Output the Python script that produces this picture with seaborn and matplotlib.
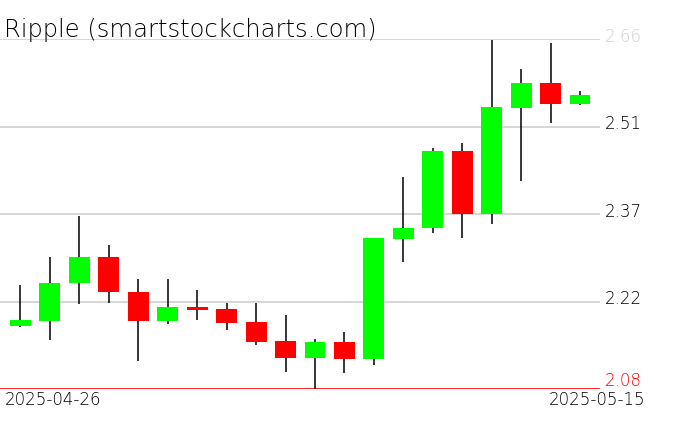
import pandas as pd
import matplotlib
matplotlib.use("Agg")
import matplotlib.pyplot as plt
import seaborn as sns

# daily OHLC
dates = pd.date_range("2025-04-26", "2025-05-15", freq="D")
opens = [2.184, 2.193, 2.255, 2.299, 2.241, 2.193, 2.216, 2.213, 2.191, 2.160,
         2.132, 2.158, 2.129, 2.329, 2.346, 2.474, 2.370, 2.546, 2.587, 2.553]
closes = [2.194, 2.256, 2.299, 2.241, 2.193, 2.216, 2.211, 2.190, 2.158, 2.132,
          2.158, 2.129, 2.330, 2.347, 2.474, 2.370, 2.547, 2.587, 2.553, 2.567]
highs = [2.252, 2.299, 2.366, 2.319, 2.262, 2.262, 2.244, 2.223, 2.223, 2.203,
         2.163, 2.175, 2.331, 2.431, 2.479, 2.488, 2.659, 2.610, 2.653, 2.574]
lows = [2.183, 2.162, 2.221, 2.223, 2.127, 2.188, 2.195, 2.178, 2.153, 2.109,
        2.080, 2.106, 2.119, 2.290, 2.338, 2.331, 2.354, 2.424, 2.521, 2.551]
y_ticks = [2.08, 2.225, 2.37, 2.515, 2.66]
y_labels = ["2.08", "2.22", "2.37", "2.51", "2.66"]

df = pd.DataFrame({"date": dates, "open": opens, "close": closes,
                   "high": highs, "low": lows})
df["idx"] = range(len(df))
df["up"] = df["close"] >= df["open"]
df["color"] = df["up"].map({True: "#00ff00", False: "#ff0000"})

sns.set_theme(style="white")
plt.rcParams["font.family"] = ["DejaVu Sans"]
plt.rcParams["text.color"] = "black"

fig = plt.figure(figsize=(6.76, 4.31), dpi=100)
ax = fig.add_axes([0, 41 / 431, 600 / 676, 350 / 431])

# grid lines
for v in y_ticks[1:]:
    ax.axhline(v, color="#d0d0d0", lw=1.2, zorder=0)
ax.axhline(y_ticks[0], color="#ff0000", lw=1.2, zorder=0)

# wicks then bodies
ax.vlines(df["idx"], df["low"], df["high"], color="black", lw=1.1, zorder=1)
body_h = (df["close"] - df["open"]).abs().clip(lower=0.004)
body_b = df[["open", "close"]].min(axis=1)
ax.bar(df["idx"], body_h, bottom=body_b, width=0.71, color=df["color"],
       edgecolor="none", zorder=2)

ax.set_xlim(-0.696, 19.68)
ax.set_ylim(2.08, 2.66)
ax.set_xticks([])
ax.set_yticks([])
for s in ax.spines.values():
    s.set_visible(False)
ax.patch.set_alpha(0)

# right-hand price labels
tick_colors = ["#ff0000", "black", "black", "black", "#d0d0d0"]
for v, lab, c in zip(y_ticks, y_labels, tick_colors):
    yy = v + 0.0145 if v == y_ticks[0] else v + 0.005
    ax.text(605 / 600, yy, lab, transform=ax.get_yaxis_transform(),
            ha="left", va="center", fontsize=12, color=c, fontweight=200)

fig.text(4 / 676, 1 - 37 / 431, "Ripple (smartstockcharts.com)", ha="left",
         va="baseline", fontsize=17.5, color="black", fontweight=200)
fig.text(5 / 676, 1 - 400 / 431, df["date"].iloc[0].strftime("%Y-%m-%d"),
         ha="left", va="center", fontsize=12, color="black", fontweight=200)
fig.text(645 / 676, 1 - 400 / 431, df["date"].iloc[-1].strftime("%Y-%m-%d"),
         ha="right", va="center", fontsize=12, color="black", fontweight=200)

fig.savefig("out.png", dpi=100, facecolor="white")
